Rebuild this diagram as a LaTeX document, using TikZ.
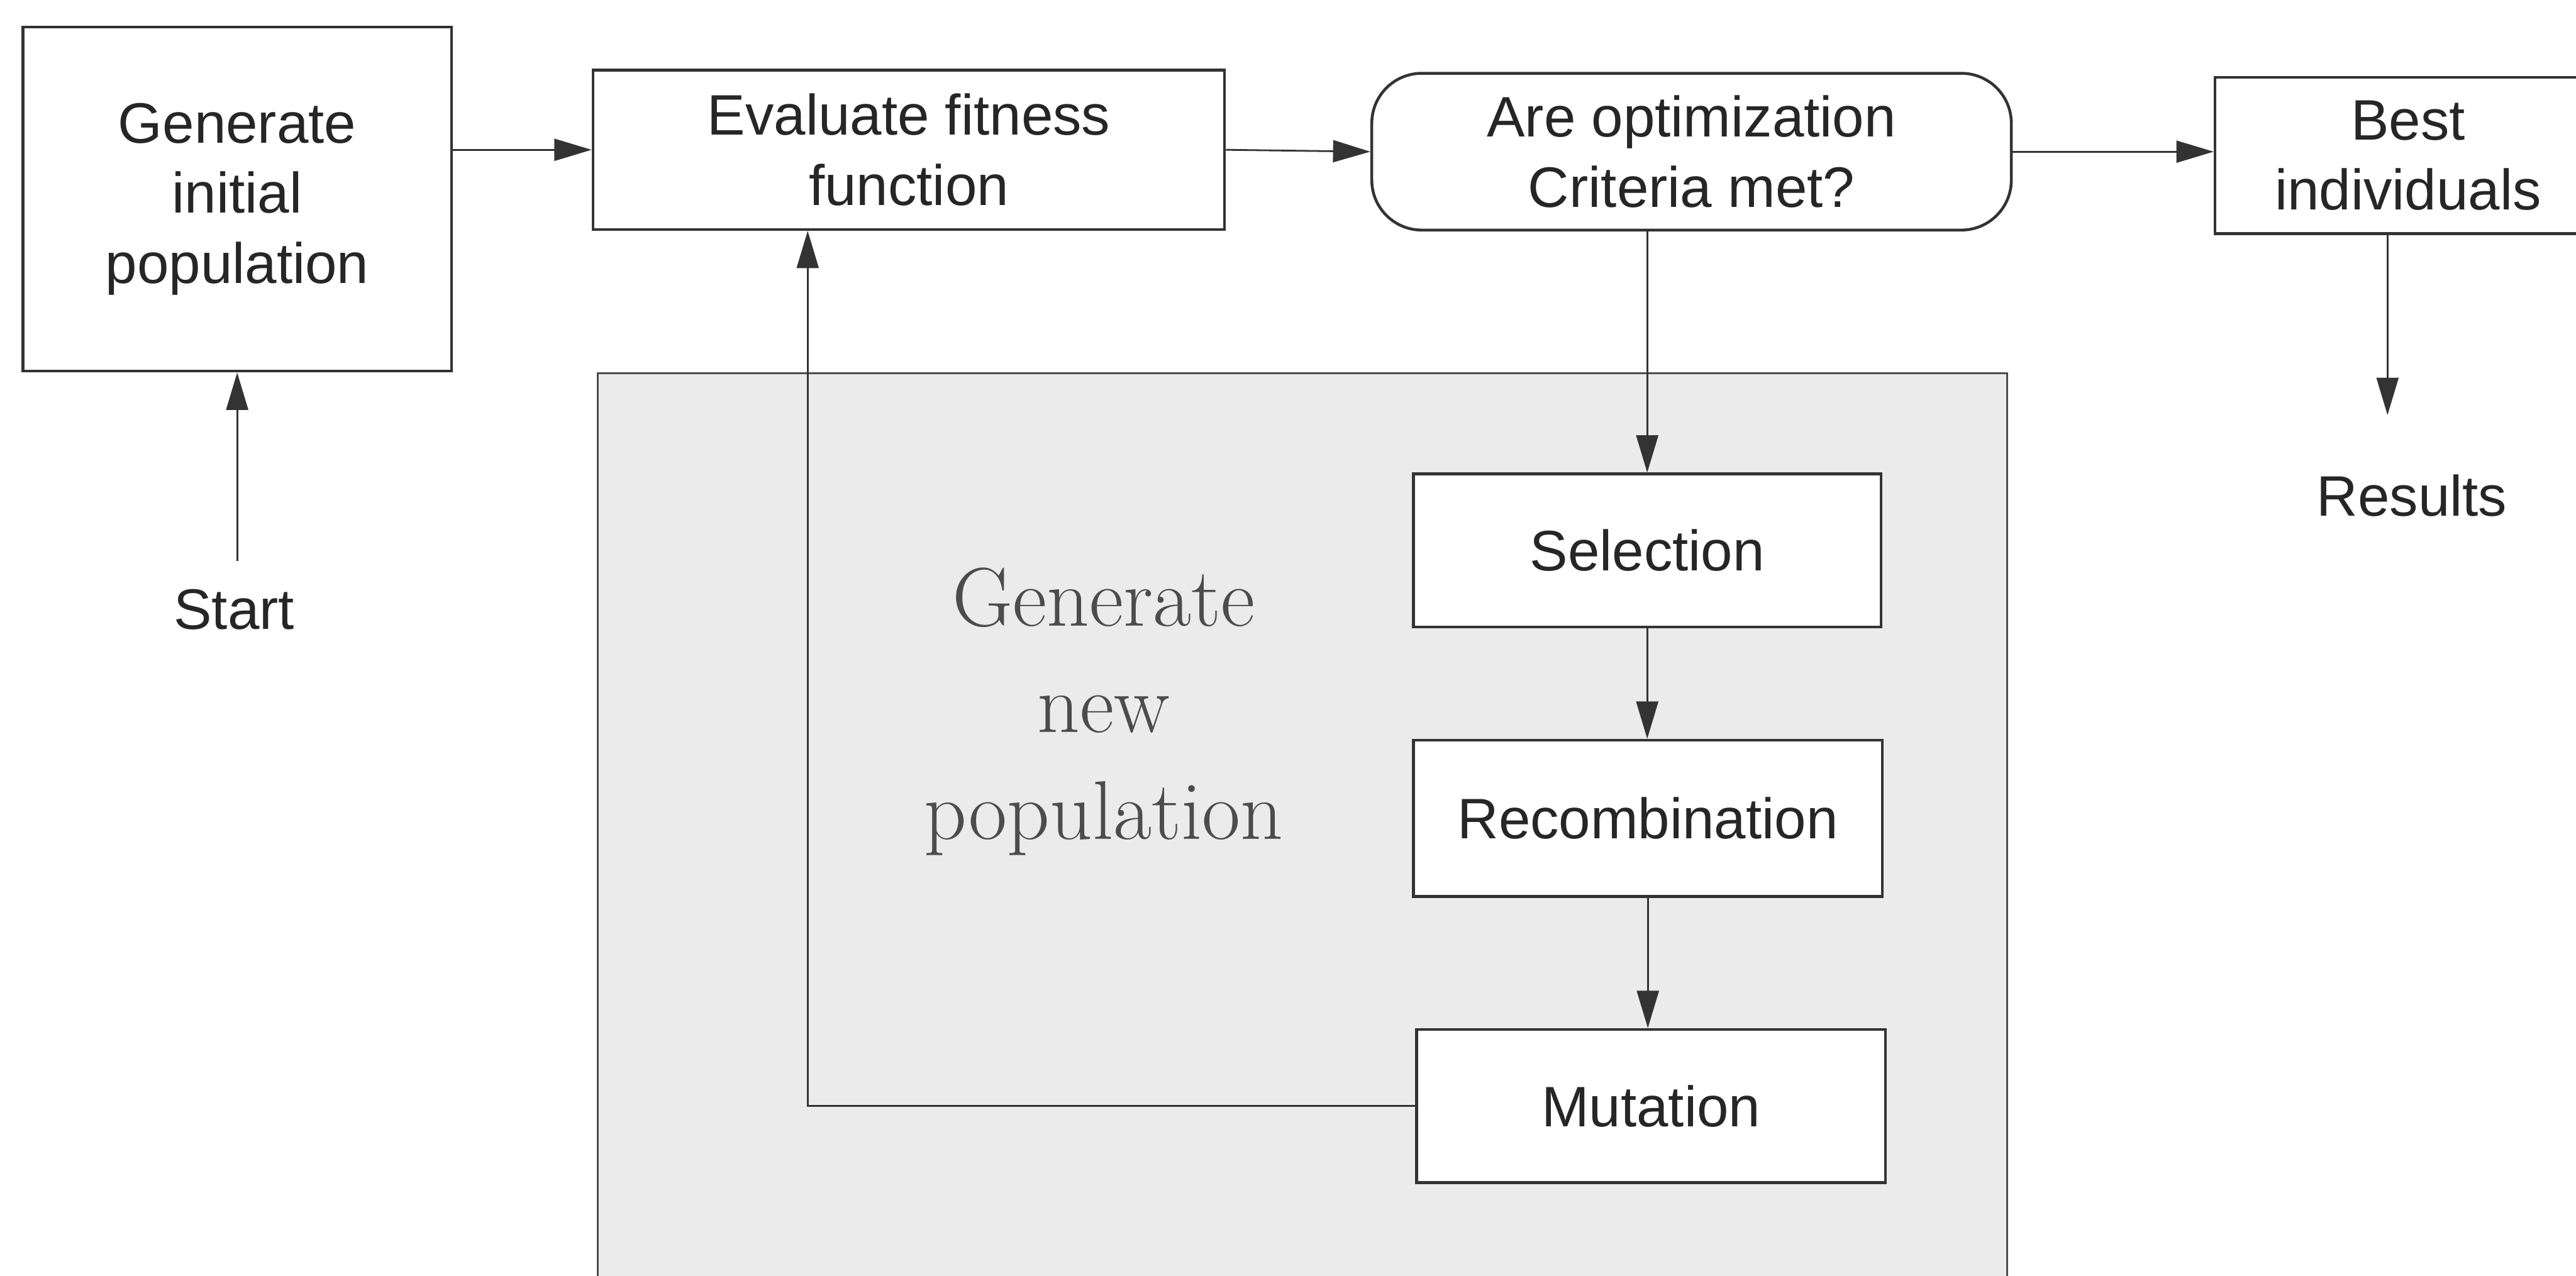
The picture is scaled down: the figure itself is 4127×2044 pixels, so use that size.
\documentclass[tikz,border=0pt]{standalone}
\usepackage{fontspec}
\newfontfamily\boxfont{Liberation Sans}
\usetikzlibrary{arrows.meta}

\begin{document}
\begin{tikzpicture}[x=0.01cm, y=-0.01cm,
  box/.style={draw=black!80, line width=1.3pt, fill=white, inner sep=0pt,
    align=center, text=black!85, font=\boxfont\fontsize{26}{32}\selectfont},
  tag/.style={inner sep=0.45cm, text=black!85, font=\boxfont\fontsize{26}{32}\selectfont},
  arr/.style={draw=black!80, line width=0.8pt, -{Triangle[length=17pt,width=10pt]}},
  region/.style={draw=black!70, line width=0.9pt, fill=black!8}]

  \useasboundingbox (0,0) rectangle (4127,2044);
  \clip (0,0) rectangle (4127,2044);
  \fill[white] (0,0) rectangle (4127,2044);

  % shaded area holding the reproduction steps
  \draw[region] (958,2080) -- (958,598) -- (3216,598) -- (3216,2080);
  \node[text=black!70, align=center, font=\fontsize{38}{48.6}\selectfont]
    (gennew) at (1768,1140) {Generate\\new\\population};

  % main row
  \node[box, minimum width=6.86cm, minimum height=5.51cm] (gen) at (380,319)
    {Generate\\initial\\population};
  \node[box, minimum width=10.11cm, minimum height=2.55cm] (eval) at (1456,240)
    {Evaluate fitness\\function};
  \node[box, rounded corners=0.8cm, minimum width=10.24cm, minimum height=2.51cm]
    (crit) at (2710,243) {Are optimization\\Criteria met?};
  \node[box, minimum width=6.18cm, minimum height=2.5cm] (best) at (3858,249)
    {Best\\individuals};

  % reproduction steps
  \node[box, minimum width=7.49cm, minimum height=2.45cm] (sel) at (2639,882) {Selection};
  \node[box, minimum width=7.51cm, minimum height=2.5cm] (rec) at (2640,1311) {Recombination};
  \node[box, minimum width=7.51cm, minimum height=2.45cm] (mut) at (2645,1772) {Mutation};

  % start and end labels
  \node[tag, anchor=base] (start) at (375,1008) {Start};
  \node[tag, anchor=base] (res) at (3864,827) {Results};

  % connectors
  \draw[arr] (gen.east |- eval.west) -- (eval.west);
  \draw[arr] (eval.east) -- (crit.west);
  \draw[arr] (crit.east) -- (crit.east -| best.west);
  \draw[arr] (start.north -| gen.south) -- (gen.south);
  \coordinate (rdrop) at (3825,0);
  \draw[arr, shorten >=0.5cm] (rdrop |- best.south) -- (rdrop |- res.north);
  \draw[arr] (sel.north |- crit.south) -- (sel.north);
  \draw[arr] (sel.south) -- (sel.south |- rec.north);
  \draw[arr] (rec.south) -- (rec.south |- mut.north);
  \coordinate (fb) at (1294,0);
  \draw[arr] (mut.west) -| (fb |- eval.south);
\end{tikzpicture}
\end{document}
